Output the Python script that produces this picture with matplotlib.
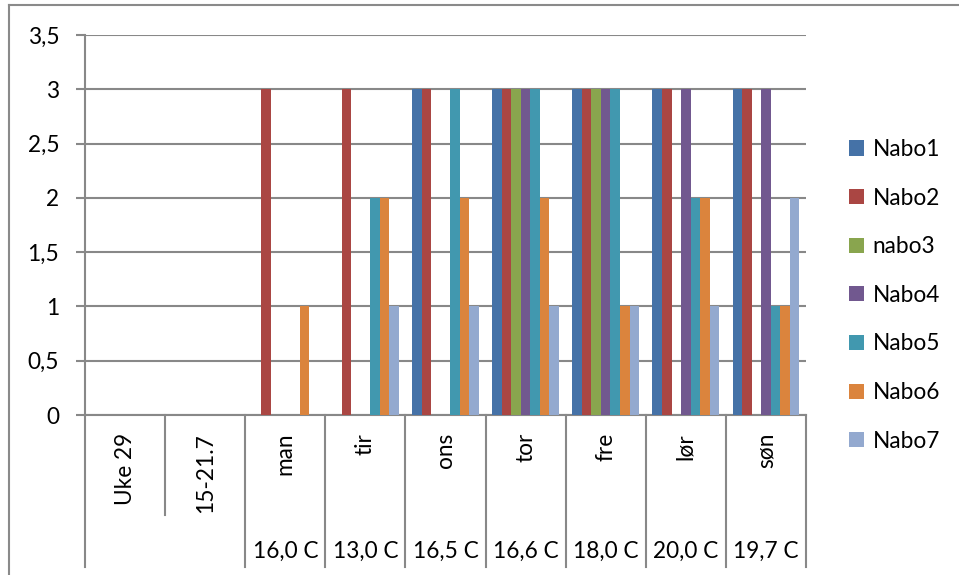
import numpy as np
import matplotlib
matplotlib.use('Agg')
import matplotlib.pyplot as plt
from matplotlib.patches import Patch
from matplotlib.ticker import FuncFormatter

# categories on the x axis (two label rows)
days = ['Uke 29', '15-21.7', 'man', 'tir', 'ons', 'tor', 'fre', 'lør', 'søn']
temps = ['', '', '16,0 C', '13,0 C', '16,5 C', '16,6 C', '18,0 C', '20,0 C', '19,7 C']

series = ['Nabo1', 'Nabo2', 'nabo3', 'Nabo4', 'Nabo5', 'Nabo6', 'Nabo7']
nabo1 = [0, 0, 0, 0, 3, 3, 3, 3, 3]
nabo2 = [0, 0, 3, 3, 3, 3, 3, 3, 3]
nabo3 = [0, 0, 0, 0, 0, 3, 3, 0, 0]
nabo4 = [0, 0, 0, 0, 0, 3, 3, 3, 3]
nabo5 = [0, 0, 0, 2, 3, 3, 3, 2, 1]
nabo6 = [0, 0, 1, 2, 2, 2, 1, 2, 1]
nabo7 = [0, 0, 0, 1, 1, 1, 1, 1, 2]
values = [nabo1, nabo2, nabo3, nabo4, nabo5, nabo6, nabo7]

colors = ['#4572A7', '#AA4643', '#89A54E', '#71588F', '#4198AF', '#DB843D', '#93A9CF']

plt.rcParams['font.family'] = ['Lato', 'DejaVu Sans']
fs = 16.3
grid_col = '#888888'

W, H = 959, 575
fig = plt.figure(figsize=(W/100, H/100), dpi=100)
ax = fig.add_axes([85/W, (H-415)/H, 721/W, 380/H])

n = len(series)
bw = 0.119
x = np.arange(len(days)) + 0.5
for k in range(n):
    off = (k - (n-1)/2) * bw
    ax.bar(x + off, values[k], width=bw, color=colors[k], edgecolor='none', zorder=3)

ax.set_xlim(0, len(days))
ax.set_ylim(0, 3.5)
ax.set_yticks(np.arange(0, 3.51, 0.5))
ax.yaxis.set_major_formatter(FuncFormatter(lambda v, p: ('%g' % v).replace('.', ',')))
ax.grid(axis='y', color=grid_col, linewidth=1.5, zorder=0)
ax.tick_params(axis='y', length=6.5, width=1.5, color=grid_col, pad=12, labelsize=fs)
ax.set_xticks([])
for s in ['top', 'right']:
    ax.spines[s].set_visible(False)
for s in ['left', 'bottom']:
    ax.spines[s].set_color(grid_col)
    ax.spines[s].set_linewidth(1.5)

# multi level category axis
tr = ax.get_xaxis_transform()
for b in range(len(days) + 1):
    low = -0.263 if b == 1 else -0.4
    ax.plot([b, b], [0, low], transform=tr, color=grid_col, lw=1.5, clip_on=False)
for i, d in enumerate(days):
    ax.text(x[i], -0.047, d, transform=tr, rotation=90, ha='center', va='top', fontsize=fs)
    if temps[i]:
        ax.text(x[i], -0.358, temps[i], transform=tr, ha='center', va='center', fontsize=fs)

# legend
handles = [Patch(facecolor=c, edgecolor='none', label=s) for c, s in zip(colors, series)]
fig.legend(handles=handles, loc='upper left', bbox_to_anchor=(849/W, 1 - 139/H),
           frameon=False, fontsize=fs, handlelength=0.65, handleheight=0.65,
           handletextpad=0.4, labelspacing=1.22, borderpad=0, borderaxespad=0)

# chart border (cut by the picture edge)
fig.add_artist(plt.Line2D([8.5/W, 8.5/W], [0, 1 - 5/H], color='#8a8a8a', lw=1.5))
fig.add_artist(plt.Line2D([8.5/W, 1], [1 - 5/H, 1 - 5/H], color='#8a8a8a', lw=1.5))

fig.savefig('out.png', dpi=100)
